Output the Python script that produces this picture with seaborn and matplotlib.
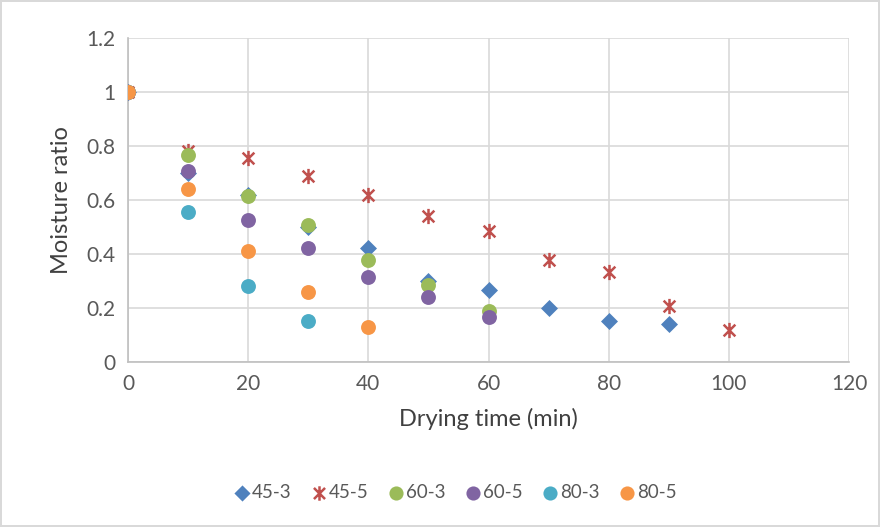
import numpy as np
import pandas as pd
import matplotlib
matplotlib.use("Agg")
import matplotlib.pyplot as plt
from matplotlib.path import Path
import seaborn as sns

series = ["45-3", "45-5", "60-3", "60-5", "80-3", "80-5"]
t_45_3 = [0, 10, 20, 30, 40, 50, 60, 70, 80, 90]
mr_45_3 = [1.0, 0.70, 0.62, 0.50, 0.422, 0.30, 0.266, 0.20, 0.153, 0.142]
t_45_5 = [0, 10, 20, 30, 40, 50, 60, 70, 80, 90, 100]
mr_45_5 = [1.0, 0.78, 0.755, 0.688, 0.62, 0.539, 0.487, 0.379, 0.333, 0.208, 0.118]
t_60_3 = [0, 10, 20, 30, 40, 50, 60]
mr_60_3 = [1.0, 0.765, 0.613, 0.507, 0.376, 0.284, 0.19]
t_60_5 = [0, 10, 20, 30, 40, 50, 60]
mr_60_5 = [1.0, 0.706, 0.525, 0.423, 0.315, 0.239, 0.167]
t_80_3 = [0, 10, 20, 30]
mr_80_3 = [1.0, 0.557, 0.28, 0.152]
t_80_5 = [0, 10, 20, 30, 40]
mr_80_5 = [1.0, 0.641, 0.411, 0.26, 0.128]

x_ticks = [0, 20, 40, 60, 80, 100, 120]
y_ticks = [0, 0.2, 0.4, 0.6, 0.8, 1.0, 1.2]
y_tick_labels = ["0", "0.2", "0.4", "0.6", "0.8", "1", "1.2"]

times = [t_45_3, t_45_5, t_60_3, t_60_5, t_80_3, t_80_5]
vals = [mr_45_3, mr_45_5, mr_60_3, mr_60_5, mr_80_3, mr_80_5]
df = pd.concat([pd.DataFrame({"t": t, "mr": v, "series": s})
                for s, t, v in zip(series, times, vals)], ignore_index=True)

colors = {"45-3": "#4F81BD", "45-5": "#C0504D", "60-3": "#9BBB59",
          "60-5": "#8064A2", "80-3": "#4BACC6", "80-5": "#F79646"}

# Excel-like star marker: X with vertical bar
star = Path([(-1, -1), (1, 1), (-1, 1), (1, -1), (0, -1.3), (0, 1.3)],
            [Path.MOVETO, Path.LINETO, Path.MOVETO, Path.LINETO, Path.MOVETO, Path.LINETO])

sns.set_theme(style="white")
plt.rcParams["font.family"] = ["Lato", "DejaVu Sans"]

fig = plt.figure(figsize=(8.8, 5.27), dpi=100)
fig.patch.set_edgecolor("#D9D9D9")
fig.patch.set_linewidth(1.5)
ax = fig.add_axes([128/880, 1-362/527, (849-128)/880, (362-38)/527])

for s in series:
    sub = df[df.series == s]
    if s == "45-5":
        sns.scatterplot(data=sub, x="t", y="mr", ax=ax, marker=star, s=120,
                        color=colors[s], linewidth=1.8, edgecolor=colors[s],
                        label=s, zorder=3)
    elif s == "45-3":
        sns.scatterplot(data=sub, x="t", y="mr", ax=ax, marker="D", s=75,
                        color=colors[s], linewidth=0, label=s, zorder=3)
    else:
        sns.scatterplot(data=sub, x="t", y="mr", ax=ax, marker="o", s=115,
                        color=colors[s], linewidth=0, label=s, zorder=3)

ax.set_xlim(0, 120)
ax.set_ylim(0, 1.2)
ax.set_xticks(x_ticks)
ax.set_yticks(y_ticks)
ax.set_yticklabels(y_tick_labels)
ax.grid(True, color="#D9D9D9", linewidth=1.2)
ax.set_axisbelow(True)
for side in ["top", "right"]:
    ax.spines[side].set_visible(False)
for side in ["left", "bottom"]:
    ax.spines[side].set_color("#BFBFBF")
    ax.spines[side].set_linewidth(1.2)
ax.tick_params(axis="both", length=0, labelsize=15, colors="#595959", pad=9)
ax.set_xlabel("Drying time (min)", fontsize=17, color="#404040", labelpad=10)
ax.set_ylabel("Moisture ratio", fontsize=17, color="#404040", labelpad=10)

leg = ax.legend(loc="center", bbox_to_anchor=(0.517, 0.065), bbox_transform=fig.transFigure,
                ncol=6, frameon=False, fontsize=13.5, handletextpad=0.05,
                handlelength=0.9, columnspacing=1.05, markerscale=0.95)
for txt in leg.get_texts():
    txt.set_color("#595959")

fig.savefig("out.png", dpi=100)
